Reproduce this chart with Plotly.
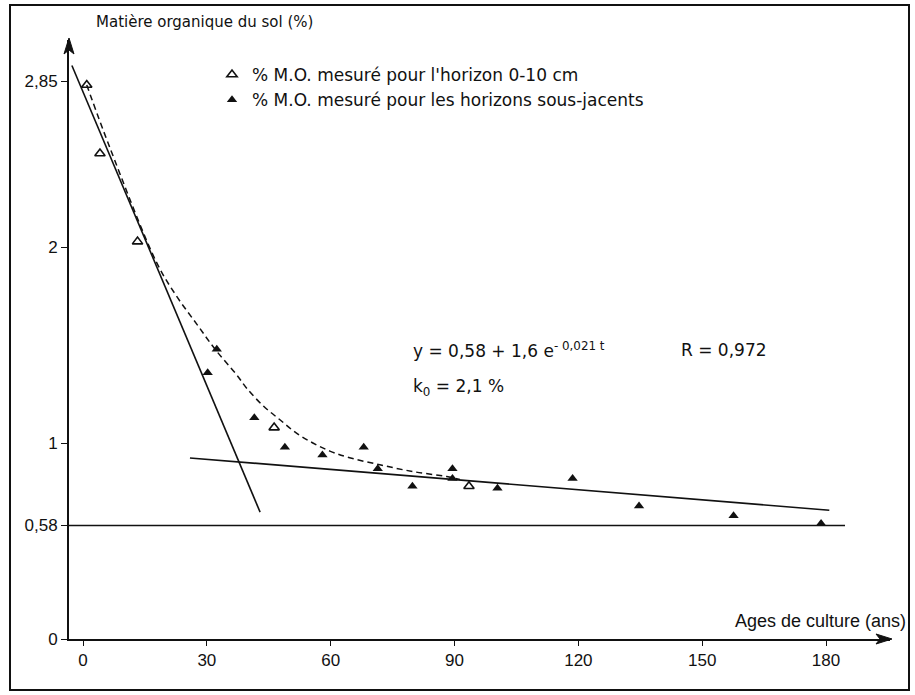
import plotly.graph_objects as go

# --- data ---
open_x = [0.9, 4.1, 13.2, 46.3, 93.5]
open_y = [2.83, 2.48, 2.03, 1.08, 0.78]

filled_x = [30.2, 32.4, 41.5, 48.9, 58.0, 68.0, 71.4, 79.8, 89.5, 89.5, 100.4, 118.6, 134.7, 157.6, 178.8]
filled_y = [1.36, 1.48, 1.13, 0.98, 0.94, 0.98, 0.87, 0.78, 0.87, 0.82, 0.77, 0.82, 0.68, 0.63, 0.59]

curve_x = [0.9, 6.5, 17.9, 22.7, 27.5, 32.0, 37.2, 39.7, 43.7, 47.7, 51.8, 55.8, 59.8, 63.9, 71.9, 80.0, 88.1, 91.3]
curve_y = [2.83, 2.51, 1.92, 1.75, 1.61, 1.48, 1.35, 1.28, 1.19, 1.12, 1.05, 1.00, 0.96, 0.93, 0.89, 0.855, 0.83, 0.815]

steep_x = [-2.7, 42.9]
steep_y = [2.93, 0.648]

slow_x = [25.9, 180.8]
slow_y = [0.925, 0.658]

base_x = [-3.4, 184.6]
base_y = [0.58, 0.58]

x_ticks = [0, 30, 60, 90, 120, 150, 180]
y_ticks = [0, 0.58, 1, 2, 2.85]
y_ticktext = ["0", "0,58", "1", "2", "2,85"]

legend_open = "% M.O. mesuré pour l'horizon 0-10 cm"
legend_filled = "% M.O. mesuré pour les horizons sous-jacents"
y_title = "Matière organique du sol (%)"
x_title = "Ages de culture (ans)"

FONT = "DejaVu Sans, Liberation Sans, Arial, sans-serif"
TICKFONT = "Liberation Sans, Arial, sans-serif"
INK = "#111111"

fig = go.Figure()

line_style = dict(color=INK, width=1.6)
fig.add_trace(go.Scatter(x=base_x, y=base_y, mode="lines", line=line_style, showlegend=False, hoverinfo="skip"))
fig.add_trace(go.Scatter(x=steep_x, y=steep_y, mode="lines", line=line_style, showlegend=False, hoverinfo="skip"))
fig.add_trace(go.Scatter(x=slow_x, y=slow_y, mode="lines", line=line_style, showlegend=False, hoverinfo="skip"))
fig.add_trace(go.Scatter(x=curve_x, y=curve_y, mode="lines", line=dict(color=INK, width=1.5, dash="6px,4px", shape="spline"),
                         showlegend=False, hoverinfo="skip"))

fig.add_trace(go.Scatter(x=open_x, y=open_y, mode="markers", name=legend_open,
                         marker=dict(symbol="triangle-up-open", size=9, color=INK, line=dict(width=1.6, color=INK))))
fig.add_trace(go.Scatter(x=filled_x, y=filled_y, mode="markers", name=legend_filled,
                         marker=dict(symbol="triangle-up", size=9, color=INK)))

W, H = 915, 695
L, R, T, B = 69, 25, 40, 56
pw, ph = W - L - R, H - T - B


def px_to_paper_x(px):
    return (px - L) / pw


def px_to_paper_y(py):
    return (H - B - py) / ph


def txt(text, px, py, size, anchor="left", family=FONT):
    return dict(text=text, xref="paper", yref="paper", x=px_to_paper_x(px), y=px_to_paper_y(py),
                xanchor=anchor, yanchor="middle", showarrow=False,
                font=dict(size=size, color=INK, family=family))


annotations = [
    txt(y_title, 94, 22, 15),
    txt(x_title, 733, 621, 18, family=TICKFONT),
    txt("y = 0,58 + 1,6 e<sup>- 0,021 t</sup>", 411, 350, 17),
    txt("R = 0,972", 679, 350, 17),
    txt("k<sub>0</sub> = 2,1 %", 411, 387, 17),
]


def path_px(points):
    parts = []
    for i, (px, py) in enumerate(points):
        parts.append(("M" if i == 0 else "L") + f" {px_to_paper_x(px):.5f} {px_to_paper_y(py):.5f}")
    return " ".join(parts) + " Z"


shapes = [
    dict(type="rect", xref="paper", yref="paper",
         x0=px_to_paper_x(10), x1=px_to_paper_x(909), y0=px_to_paper_y(690), y1=px_to_paper_y(5),
         line=dict(color=INK, width=2), fillcolor="rgba(0,0,0,0)", layer="below"),
    # arrowheads at the ends of the axes
    dict(type="path", xref="paper", yref="paper", path=path_px([(892, 639), (876, 634), (880, 639), (876, 644)]),
         fillcolor=INK, line=dict(color=INK, width=1)),
    dict(type="path", xref="paper", yref="paper", path=path_px([(69, 38), (64, 54), (69, 50), (74, 54)]),
         fillcolor=INK, line=dict(color=INK, width=1)),
]

fig.update_layout(
    width=W, height=H,
    margin=dict(l=L, r=R, t=T, b=B, pad=0),
    paper_bgcolor="white", plot_bgcolor="white",
    font=dict(family=FONT, color=INK, size=15),
    xaxis=dict(range=[-3.4, 195.5], tickvals=x_ticks, ticks="outside", ticklen=5, tickwidth=1.2,
               tickcolor=INK, showline=True, linecolor=INK, linewidth=2, showgrid=False, zeroline=False,
               tickfont=dict(size=17, family=TICKFONT, color=INK), fixedrange=True),
    yaxis=dict(range=[0, 3.06], tickvals=y_ticks, ticktext=y_ticktext, ticks="outside", ticklen=6,
               tickwidth=1.2, tickcolor=INK, showline=True, linecolor=INK, linewidth=2, showgrid=False,
               zeroline=False, tickfont=dict(size=17, family=TICKFONT, color=INK), fixedrange=True),
    legend=dict(x=px_to_paper_x(212), y=px_to_paper_y(57), xanchor="left", yanchor="top",
                bgcolor="rgba(0,0,0,0)", font=dict(size=17, family=FONT, color=INK),
                itemwidth=30, tracegroupgap=4),
    annotations=annotations,
    shapes=shapes,
)

fig.write_html("out.html", config={"displayModeBar": False},
               post_script="document.body.style.margin='0px';document.body.style.overflow='hidden';")
